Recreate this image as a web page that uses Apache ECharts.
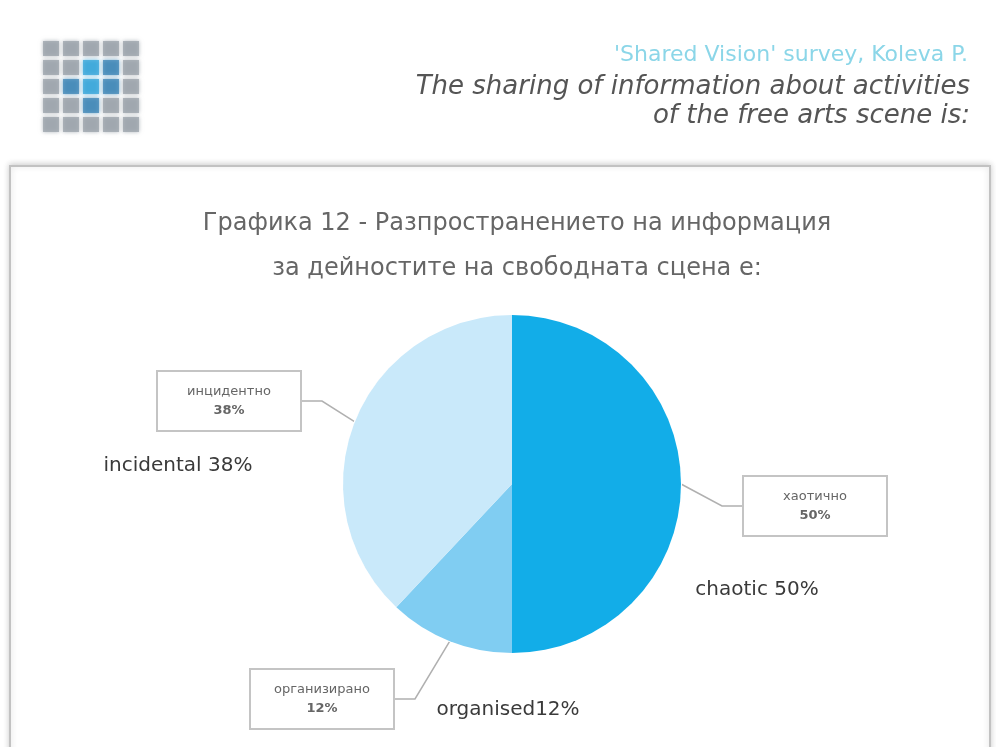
<!DOCTYPE html>
<html>
<head>
<meta charset="utf-8">
<script src="https://cdn.jsdelivr.net/npm/echarts@6/dist/echarts.min.js"></script>
<style>
html,body{margin:0;padding:0;background:#fff;}
#c1{width:996px;height:747px;}
</style>
</head>
<body>
<div id="c1"></div>
<script>
// data
var sliceNames = ['хаотично', 'организирано', 'инцидентно'];
var sliceEn = ['chaotic', 'organised', 'incidental'];
var sliceValues = [50, 12, 38];
var sliceColors = ['#12ade8', '#80cdf2', '#c9e9fa'];

var titleLines = ['Графика 12 - Разпространението на информация', 'за дейностите на свободната сцена е:'];
var headSource = "'Shared Vision' survey, Koleva P.";
var headLines = ['The sharing of information about activities', 'of the free arts scene is:'];

// logo pattern, 1/2 = blue square
var logoRows = [
    [0,0,0,0,0],
    [0,0,2,1,0],
    [0,1,2,1,0],
    [0,0,1,0,0],
    [0,0,0,0,0]
];

// where the callout boxes and english labels go
var boxPos = [[815, 506], [322, 699], [229, 401]];
var enPos = [[757, 590], [508, 710], [178, 466]];

var font = 'DejaVu Sans';

var c1_chart;
window.onload = function(){
    c1_chart = echarts.init(document.getElementById('c1'));
    c1_chart.setOption(build_option());
};

function pie_data()
{
    var arr = [];
    for (var i = 0; i < sliceValues.length; i++) {
        arr.push({name: sliceNames[i], value: sliceValues[i], itemStyle: {color: sliceColors[i]}});
    }
    return arr;
}

function logo_graphics()
{
    var out = [];
    var cols = {0: '#9aa2aa', 1: '#3d86b6', 2: '#35a4d8'};
    for (var r = 0; r < logoRows.length; r++) {
        for (var c = 0; c < logoRows[r].length; c++) {
            out.push({
                type: 'rect',
                shape: {x: 43 + c * 20, y: 41 + r * 19, width: 16, height: 15},
                style: {fill: cols[logoRows[r][c]], opacity: 0.75, shadowBlur: 4, shadowColor: cols[logoRows[r][c]]}
            });
        }
    }
    return out;
}

function build_option()
{
    var g = [
        {
            type: 'rect', z: 0,
            shape: {x: 10, y: 166, width: 980, height: 600},
            style: {fill: '#fff', stroke: '#c2c2c2', lineWidth: 2, shadowBlur: 6, shadowColor: 'rgba(0,0,0,0.18)', shadowOffsetY: -1}
        },
        {
            type: 'text', right: 28, top: 44,
            style: {text: headSource, fill: '#8bd6e8', font: '22px ' + font, textAlign: 'right'}
        },
        {
            type: 'text', right: 26, top: 73,
            style: {text: headLines.join('\n'), fill: '#555', font: 'italic 26px ' + font, textAlign: 'right', lineHeight: 29}
        }
    ].concat(logo_graphics());

    return {
        backgroundColor: '#fff',
        animation: false,
        title: {
            text: titleLines.join('\n'),
            left: 512,
            textAlign: 'center',
            top: 196,
            textStyle: {fontFamily: font, fontSize: 24, fontWeight: 'normal', color: '#666', lineHeight: 45}
        },
        graphic: g,
        series: [
            {
                type: 'pie',
                center: [512, 484],
                radius: 169,
                startAngle: 90,
                clockwise: true,
                silent: true,
                itemStyle: {borderColor: '#fff', borderWidth: 2},
                label: {
                    show: true,
                    position: 'outside',
                    formatter: function(p){ return '{a|' + p.name + '}\n{b|' + p.value + '%}'; },
                    backgroundColor: '#fff',
                    borderColor: '#c4c4c4',
                    borderWidth: 2,
                    width: 108,
                    align: 'center',
                    padding: [10, 17],
                    rich: {
                        a: {fontFamily: font, fontSize: 13, color: '#666', lineHeight: 19, align: 'center'},
                        b: {fontFamily: font, fontSize: 13, color: '#666', lineHeight: 19, align: 'center', fontWeight: 'bold'}
                    }
                },
                labelLine: {show: true, length: 20, length2: 20, lineStyle: {color: '#b0b0b0', width: 1.5}},
                labelLayout: function(p){
                    var pos = boxPos[p.dataIndex];
                    return {x: pos[0], y: pos[1], align: 'center', verticalAlign: 'middle'};
                },
                data: pie_data()
            },
            {
                type: 'pie',
                center: [512, 484],
                radius: 169,
                startAngle: 90,
                clockwise: true,
                silent: true,
                itemStyle: {color: 'rgba(0,0,0,0)'},
                label: {
                    show: true,
                    position: 'outside',
                    formatter: function(p){ return sliceEn[p.dataIndex] + (p.dataIndex == 1 ? '' : ' ') + p.value + '%'; },
                    fontFamily: font,
                    fontSize: 20,
                    color: '#3a3a3a'
                },
                labelLine: {show: false},
                labelLayout: function(p){
                    var pos = enPos[p.dataIndex];
                    return {x: pos[0], y: pos[1], align: 'center', verticalAlign: 'middle'};
                },
                data: pie_data()
            }
        ]
    };
}
</script>
</body>
</html>
